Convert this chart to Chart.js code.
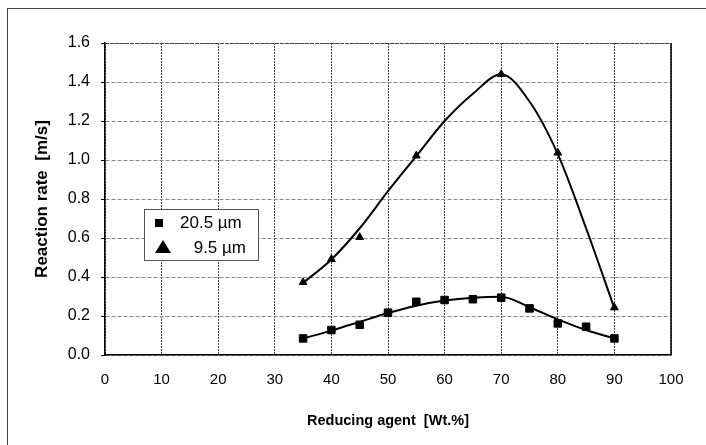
<!DOCTYPE html>
<html>
<head>
<meta charset="utf-8">
<script src="https://cdn.jsdelivr.net/npm/chart.js@4.4.1/dist/chart.umd.min.js"></script>
<style>
  body { margin: 0; background: #fff; }
  #wrap { width: 706px; height: 445px; position: relative; }
</style>
</head>
<body>
<div id="wrap"><canvas id="rateChart" width="706" height="445"></canvas></div>
<script>
// measured points
const xSmall = [35, 40, 45, 50, 55, 60, 65, 70, 75, 80, 85, 90];
const rateSmall = [0.085, 0.128, 0.155, 0.217, 0.273, 0.282, 0.286, 0.294, 0.239, 0.162, 0.145, 0.085];
const xFine = [35, 40, 45, 55, 70, 80, 90];
const rateFine = [0.373, 0.491, 0.604, 1.022, 1.44, 1.037, 0.243];

// trend lines
const xTrend = [35, 40, 45, 50, 55, 60, 65, 70, 75, 80, 85, 90];
const trendSmall = [0.085, 0.125, 0.17, 0.215, 0.253, 0.279, 0.294, 0.299, 0.245, 0.183, 0.128, 0.085];
const trendFine = [0.37, 0.49, 0.65, 0.84, 1.02, 1.20, 1.34, 1.44, 1.30, 1.03, 0.65, 0.24];

const labels = ['20.5 µm', '9.5 µm'];
const yTitle = 'Reaction rate  [m/s]';
const xTitle = 'Reducing agent  [Wt.%]';

const toPoints = (xs, ys) => xs.map((x, i) => ({ x: x, y: ys[i] }));

const SANS = "'Liberation Sans', Arial, sans-serif";

const framePlugin = {
  id: 'frame',
  beforeDraw: (chart) => {
    const ctx = chart.ctx;
    ctx.save();
    ctx.fillStyle = '#fff';
    ctx.fillRect(0, 0, chart.width, chart.height);
    ctx.strokeStyle = '#444';
    ctx.lineWidth = 1;
    ctx.strokeRect(7.5, 8.5, chart.width + 10, chart.height + 10);
    ctx.restore();
  },
  afterDatasetsDraw: (chart) => {
    const { ctx, chartArea: a } = chart;
    ctx.save();
    ctx.strokeStyle = '#000';
    ctx.lineWidth = 1.5;
    ctx.beginPath();
    ctx.moveTo(a.right, a.top);
    ctx.lineTo(a.right, a.bottom);
    ctx.stroke();
    ctx.strokeStyle = '#444';
    ctx.lineWidth = 1;
    ctx.setLineDash([4, 1]);
    ctx.beginPath();
    ctx.moveTo(a.left, a.top + 0.5);
    ctx.lineTo(a.right, a.top + 0.5);
    ctx.stroke();
    ctx.restore();

    // legend box inside the plot
    const bx = 144, by = 209, bw = 114, bh = 51;
    ctx.save();
    ctx.fillStyle = '#fff';
    ctx.fillRect(bx, by, bw, bh);
    ctx.strokeStyle = '#555';
    ctx.lineWidth = 1;
    ctx.strokeRect(bx + 0.5, by + 0.5, bw, bh);
    ctx.fillStyle = '#000';
    ctx.fillRect(155, 219, 8, 8);
    ctx.beginPath();
    ctx.moveTo(163, 240);
    ctx.lineTo(171, 253);
    ctx.lineTo(155, 253);
    ctx.closePath();
    ctx.fill();
    ctx.font = '17px ' + SANS;
    ctx.textBaseline = 'alphabetic';
    ctx.textAlign = 'left';
    ctx.fillText(labels[0], 180, 228);
    ctx.textAlign = 'right';
    ctx.fillText(labels[1], 246, 253);
    ctx.restore();
  }
};

const ctx = document.getElementById('rateChart').getContext('2d');
const rateChart = new Chart(ctx, {
  type: 'scatter',
  data: {
    datasets: [
      {
        label: labels[0],
        data: toPoints(xSmall, rateSmall),
        pointStyle: 'rect',
        pointRadius: 5.3,
        backgroundColor: '#000',
        borderColor: '#000',
        showLine: false
      },
      {
        label: labels[1],
        data: toPoints(xFine, rateFine),
        pointStyle: 'triangle',
        pointRadius: 4.5,
        backgroundColor: '#000',
        borderColor: '#000',
        showLine: false
      },
      {
        label: 'trend small',
        data: toPoints(xTrend, trendSmall),
        showLine: true,
        pointRadius: 0,
        borderColor: '#000',
        borderWidth: 2,
        cubicInterpolationMode: 'monotone'
      },
      {
        label: 'trend fine',
        data: toPoints(xTrend, trendFine),
        showLine: true,
        pointRadius: 0,
        borderColor: '#000',
        borderWidth: 2,
        cubicInterpolationMode: 'monotone'
      }
    ]
  },
  options: {
    responsive: false,
    animation: false,
    layout: { padding: { top: 43, right: 35, left: 0, bottom: 0 } },
    plugins: {
      legend: { display: false },
      tooltip: { enabled: false }
    },
    scales: {
      x: {
        type: 'linear',
        min: 0,
        max: 100,
        afterFit: (scale) => { scale.height = 90; },
        ticks: {
          stepSize: 10,
          color: '#000',
          padding: 16,
          maxRotation: 0,
          font: { family: SANS, size: 15 }
        },
        grid: { color: '#444', drawTicks: false, lineWidth: 1 },
        border: { color: '#000', width: 1.5, dash: [2, 1] },
        title: {
          display: true,
          text: xTitle,
          color: '#000',
          padding: { top: 0, bottom: 15 },
          font: { family: SANS, size: 14.5, weight: 'bold' }
        }
      },
      y: {
        min: 0,
        max: 1.6,
        afterFit: (scale) => { scale.width = 105; },
        ticks: {
          stepSize: 0.2,
          color: '#000',
          padding: 11,
          font: { family: SANS, size: 16 },
          callback: (v) => v.toFixed(1)
        },
        grid: { color: '#888', tickColor: '#000', tickLength: 4, lineWidth: 1 },
        border: { color: '#000', width: 1.5, dash: [4, 2] },
        title: {
          display: true,
          text: yTitle,
          color: '#000',
          padding: { top: 32, bottom: 0 },
          font: { family: SANS, size: 17, weight: 'bold' }
        }
      }
    }
  },
  plugins: [framePlugin]
});
</script>
</body>
</html>
